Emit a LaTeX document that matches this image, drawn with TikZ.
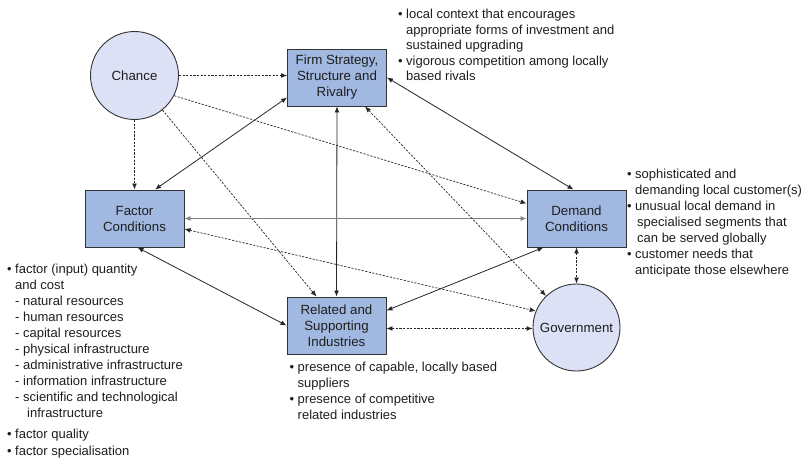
\documentclass[tikz,border=0pt]{standalone}
\usepackage{fontspec}
\setmainfont{Liberation Sans}
\usetikzlibrary{arrows.meta,calc}

\definecolor{boxfill}{HTML}{A1B8E1}
\definecolor{discfill}{HTML}{DDE1F6}
\definecolor{ink}{HTML}{1E1E1E}
\definecolor{edge}{HTML}{333333}

% bullet and hanging indent for the note lists
\newcommand\bitem{\makebox[8pt][l]{•}}
\newcommand\bcont{\hspace*{8pt}}

\tikzset{
  >={Latex[length=6pt,width=4.8pt]},
  box/.style={draw=edge, fill=boxfill, line width=0.9pt, minimum width=99pt,
    minimum height=57pt, inner sep=0pt, align=center, text=ink,
    font=\fontsize{13.3}{16}\selectfont},
  disc/.style={circle, draw=edge, fill=discfill, line width=0.9pt, inner sep=0pt,
    text=ink, font=\fontsize{13.3}{16}\selectfont},
  note/.style={anchor=north west, inner sep=0pt, align=left, text=ink,
    font=\fontsize{13}{16}\selectfont},
  link/.style={draw=black!85, line width=0.8pt},
  main/.style={draw=black!50, line width=1.7pt},
  dep/.style={draw=black!85, line width=0.7pt, dash pattern=on 2.2pt off 1.4pt}
}

\begin{document}
\begin{tikzpicture}[x=1pt,y=-1pt]
\useasboundingbox (0,0) rectangle (808,460);

% the four determinants
\node[box] (firm)    at (337,77.5)    {Firm Strategy,\\Structure and\\Rivalry};
\node[box] (factor)  at (134.5,218.5) {Factor\\Conditions};
\node[box] (demand)  at (576.5,218.5) {Demand\\Conditions};
\node[box] (related) at (336.5,325.5) {Related and\\Supporting\\Industries};

% the two outside influences
\node[disc, minimum size=88pt] (chance) at (134.5,75.5)  {Chance};
\node[disc, minimum size=87pt] (gov)    at (576.5,327.5) {Government};

% notes beside each determinant
\node[note, font=\fontsize{13}{15.5}\selectfont] (firmnote) at (398,7.5)
  {\strut\bitem local context that encourages\\
   \bcont appropriate forms of investment and\\
   \bcont sustained upgrading\\
   \bitem vigorous competition among locally\\
   \bcont based rivals};

\node[note] (demandnote) at (627,167.3)
  {\strut\bitem sophisticated and\\
   \bcont demanding local customer(s)\\
   \bitem unusual local demand in\\
   \hspace*{10pt}specialised segments that\\
   \hspace*{10pt}can be served globally\\
   \bitem customer needs that\\
   \bcont anticipate those elsewhere};

\node[note] (relatednote) at (289.5,360.2)
  {\strut\bitem presence of capable, locally based\\
   \bcont suppliers\\
   \bitem presence of competitive\\
   \bcont related industries};

\node[note] (factornote) at (7,262.2)
  {\strut\bitem factor (input) quantity\\
   \bcont and cost\\
   \bcont - natural resources\\
   \bcont - human resources\\
   \bcont - capital resources\\
   \bcont - physical infrastructure\\
   \bcont - administrative infrastructure\\
   \bcont - information infrastructure\\
   \bcont - scientific and technological\\
   \hspace*{20pt}infrastructure\\[5pt]
   \bitem factor quality\\[1pt]
   \bitem factor specialisation};

% chance acts on the determinants
\draw[dep,->] (chance.east) -- (chance.east -| firm.west);
\draw[dep,->] (chance.south) -- (factor.north);
\draw[dep,->] (chance.-27) -- ([yshift=15pt]demand.west);
\draw[dep,->] (chance.-51) -- ([xshift=-20pt]related.north);

% mutual links among the determinants
\draw[link,<->] ([yshift=-20pt]firm.west) -- ([xshift=20.5pt]factor.north);
\draw[link,<->] (firm.east) -- ([xshift=-3pt]demand.north);
\draw[link,<->] (firm.south) -- (related.north);
\draw[main,<->, >={Latex[length=6pt,width=5pt]}] (factor.east) -- (demand.west);
\draw[link,<->] ([xshift=3pt]factor.south) -- (related.west);
\draw[link,<->] ([xshift=-33pt]demand.south) -- ([yshift=15pt]related.east);

% government and the determinants
\draw[dep,<->] ([xshift=28pt]firm.south) -- (gov.134);
\draw[dep,<->] ([yshift=-10.5pt]factor.east) -- (gov.158);
\draw[dep,<->] (demand.south) -- (gov.north);
\draw[dep,<->] ([yshift=-3pt]related.east) -- ([yshift=-3pt]related.east -| gov.west);
\end{tikzpicture}
\end{document}
